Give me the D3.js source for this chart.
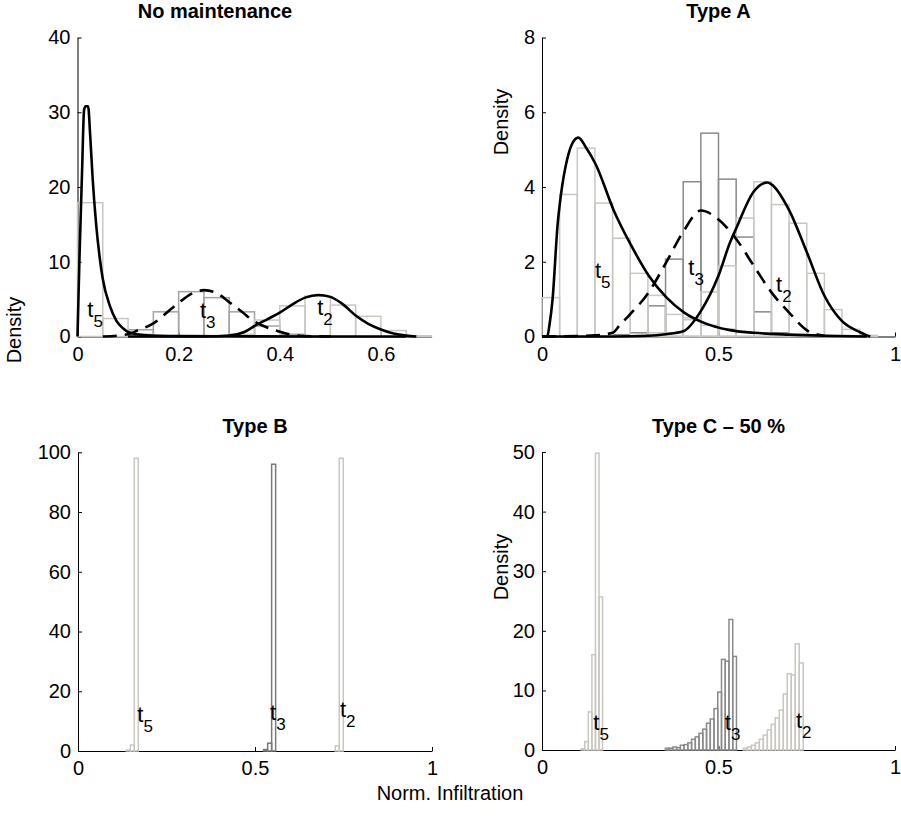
<!DOCTYPE html>
<html><head><meta charset="utf-8">
<script src="https://cdn.jsdelivr.net/npm/d3@7"></script>
<style>
html,body{margin:0;padding:0;background:#fff;}
svg{display:block;font-family:"Liberation Sans",Arial,Helvetica,sans-serif;}
</style></head>
<body><svg id="chart" width="901" height="836"></svg>
<script>
// ---------------- DATA ----------------
const panelTitles = ["No maintenance", "Type A", "Type B", "Type C \u2013 50 %"];
const seriesNames = ["5", "3", "2"]; // t5, t3, t2

// No maintenance (bin width 0.05)
const nmT5Start = 0.0,  nmT5Width = 0.05, nmT5Dens = [17.9, 2.4, 0.3, 0.1];
const nmT3Start = 0.10, nmT3Width = 0.05, nmT3Dens = [0.9, 3.3, 6.0, 5.2, 3.3, 1.4, 0.3];
const nmT2Start = 0.30, nmT2Width = 0.05, nmT2Dens = [0.3, 2.2, 4.1, 5.4, 4.2, 2.7, 0.8, 0.1];
const nmT5CurveX = [0, 0.004, 0.009, 0.013, 0.016, 0.021, 0.025, 0.030, 0.037, 0.044, 0.05, 0.064, 0.077, 0.09, 0.1, 0.13, 0.2, 0.35, 0.65];
const nmT5CurveY = [0, 10.8, 22, 30.3, 30.8, 30.8, 27, 21.1, 14.9, 10.5, 7.7, 4.1, 2.1, 1.1, 0.6, 0.2, 0.06, 0.02, 0];
const nmT3CurveX = [0.05, 0.1, 0.12, 0.15, 0.175, 0.2, 0.225, 0.25, 0.275, 0.3, 0.325, 0.35, 0.375, 0.395, 0.42, 0.45, 0.5];
const nmT3CurveY = [0, 0.3, 0.85, 1.75, 3.1, 4.5, 5.7, 6.2, 5.8, 4.6, 3.3, 2.0, 1.2, 0.75, 0.3, 0.05, 0];
const nmT2CurveX = [0.1, 0.25, 0.3, 0.33, 0.352, 0.375, 0.40, 0.425, 0.45, 0.476, 0.5, 0.525, 0.55, 0.575, 0.6, 0.625, 0.65, 0.67];
const nmT2CurveY = [0, 0.01, 0.13, 0.6, 1.48, 2.3, 3.2, 4.3, 5.2, 5.56, 5.3, 4.3, 2.8, 1.7, 0.94, 0.4, 0.12, 0.0];

// Type A (bin width 0.05)
const aT5Start = 0.0, aT5Width = 0.05, aT5Dens = [1.04, 3.8, 5.04, 3.57, 2.63, 1.69, 1.10, 0.59, 0.45, 0.3, 0.2];
const aT3Start = 0.2, aT3Width = 0.05, aT3Dens = [0.05, 0.1, 0.82, 2.07, 4.14, 5.44, 4.21, 2.66, 0.66, 0.1];
const aT2Start = 0.3, aT2Width = 0.05, aT2Dens = [0.1, 0.1, 0.5, 1.19, 1.89, 3.17, 4.14, 3.53, 3.03, 1.69, 0.72, 0.19, 0.03];
const aT5CurveX = [0, 0.015, 0.0207, 0.03, 0.044, 0.0535, 0.072, 0.086, 0.103, 0.125, 0.153, 0.203, 0.253, 0.303, 0.353, 0.403, 0.452, 0.532, 0.6, 0.7, 0.8, 0.92];
const aT5CurveY = [0, 0, 0.28, 1.0, 2.97, 3.78, 4.77, 5.17, 5.32, 5.05, 4.59, 3.38, 2.43, 1.62, 1.04, 0.64, 0.39, 0.17, 0.1, 0.05, 0.02, 0];
const aT3CurveX = [0, 0.1, 0.15, 0.2, 0.22, 0.25, 0.3, 0.35, 0.4, 0.45, 0.5, 0.55, 0.6, 0.65, 0.7, 0.755, 0.8];
const aT3CurveY = [0, 0.01, 0.03, 0.1, 0.3, 0.6, 1.15, 1.95, 2.8, 3.37, 3.13, 2.61, 1.89, 1.18, 0.64, 0.14, 0.02];
const aT2CurveX = [0, 0.2, 0.3, 0.35, 0.4, 0.45, 0.5, 0.532, 0.55, 0.6, 0.638, 0.65, 0.7, 0.75, 0.8, 0.85, 0.9, 0.92, 0.93];
const aT2CurveY = [0, 0, 0.02, 0.06, 0.14, 0.68, 1.63, 2.5, 2.89, 3.88, 4.12, 4.07, 3.38, 2.26, 1.09, 0.41, 0.12, 0.03, 0];

// Type B (narrow bins)
const bT5Start = 0.1364, bT5Width = 0.0113, bT5Dens = [0.3, 2.0, 98.0];
const bT3Start = 0.5244, bT3Width = 0.0113, bT3Dens = [0.5, 2.6, 96.0];
const bT2Start = 0.7267, bT2Width = 0.0113, bT2Dens = [1.7, 98.0];

// Type C - 50 % (narrow bins)
const cT5Start = 0.111, cT5Width = 0.0101, cT5Dens = [0.2, 1.4, 6.4, 16.0, 49.8, 25.7];
const cT3Start = 0.3495, cT3Width = 0.0106, cT3Dens = [0.3, 0.3, 0.5, 0.4, 0.8, 0.9, 1.2, 1.8, 2.2, 2.8, 3.5, 4.5, 5.2, 6.95, 9.7, 15.2, 14.9, 21.9, 15.7];
const cT2Start = 0.5705, cT2Width = 0.0113, cT2Dens = [0.3, 0.5, 0.8, 1.2, 1.8, 2.5, 3.4, 4.3, 5.4, 6.7, 9.4, 12.8, 12.6, 17.8, 14.6];

// Axis tick values
const nmXTicks = [0, 0.2, 0.4, 0.6], nmYTicks = [0, 10, 20, 30, 40];
const aXTicks = [0, 0.5, 1], aYTicks = [0, 2, 4, 6, 8];
const bXTicks = [0, 0.5, 1], bYTicks = [0, 20, 40, 60, 80, 100];
const cXTicks = [0, 0.5, 1], cYTicks = [0, 10, 20, 30, 40, 50];
const xDomains = [[0, 0.7], [0, 1], [0, 1], [0, 1]];
const yDomains = [[0, 40], [0, 8], [0, 100], [0, 50]];

// Label anchor points (data units) for t_5, t_3, t_2
const nmLabelX = [0.0194, 0.242, 0.474], nmLabelY = [2.6, 2.5, 2.9];
const aLabelX = [0.150, 0.4145, 0.663], aLabelY = [1.57, 1.65, 1.2];
const bLabelX = [0.1675, 0.5424, 0.740], bLabelY = [9.8, 10.4, 11.5];
const cLabelX = [0.1453, 0.518, 0.7195], cLabelY = [3.36, 3.4, 3.7];

const xLabel = "Norm. Infiltration";
const yLabel = "Density";

// ---------------- LAYOUT / STYLE ----------------
const boxes = [
  {x0: 77.5, x1: 431.5, y0: 336.5, y1: 37.5, tx: 215},
  {x0: 542, x1: 895, y0: 336.5, y1: 37.5, tx: 718.5},
  {x0: 78, x1: 432, y0: 751, y1: 452.3, tx: 255},
  {x0: 542, x1: 895, y0: 750, y1: 452, tx: 718.5}
];
const lightGray = "#c9c7c0", darkGray = "#8a8a8a";
const fontSize = 20, tSize = 22, subSize = 17;

function bins(start, width, dens) { return dens.map((d, i) => ({x0: start + i * width, x1: start + (i + 1) * width, d})); }
function pts(xs, ys) { return xs.map((x, i) => [x, ys[i]]); }

const panels = [
  {
    bars: [bins(nmT3Start, nmT3Width, nmT3Dens), bins(nmT5Start, nmT5Width, nmT5Dens), bins(nmT2Start, nmT2Width, nmT2Dens)],
    barColors: ["#a3a3a3", lightGray, lightGray],
    curves: [pts(nmT5CurveX, nmT5CurveY), pts(nmT3CurveX, nmT3CurveY), pts(nmT2CurveX, nmT2CurveY)],
    dashed: [false, true, false],
    xt: nmXTicks, yt: nmYTicks, lx: nmLabelX, ly: nmLabelY
  },
  {
    bars: [bins(aT3Start, aT3Width, aT3Dens), bins(aT5Start, aT5Width, aT5Dens), bins(aT2Start, aT2Width, aT2Dens)],
    barColors: [darkGray, lightGray, lightGray],
    curves: [pts(aT5CurveX, aT5CurveY), pts(aT3CurveX, aT3CurveY), pts(aT2CurveX, aT2CurveY)],
    dashed: [false, true, false],
    xt: aXTicks, yt: aYTicks, lx: aLabelX, ly: aLabelY
  },
  {
    bars: [bins(bT3Start, bT3Width, bT3Dens), bins(bT5Start, bT5Width, bT5Dens), bins(bT2Start, bT2Width, bT2Dens)],
    barColors: ["#7a7a7a", lightGray, lightGray],
    curves: [], dashed: [],
    xt: bXTicks, yt: bYTicks, lx: bLabelX, ly: bLabelY
  },
  {
    bars: [bins(cT3Start, cT3Width, cT3Dens), bins(cT5Start, cT5Width, cT5Dens), bins(cT2Start, cT2Width, cT2Dens)],
    barColors: [darkGray, lightGray, lightGray],
    curves: [], dashed: [],
    xt: cXTicks, yt: cYTicks, lx: cLabelX, ly: cLabelY
  }
];

const svg = d3.select("#chart");
const fmt = d => (d === 0 ? "0" : d3.format("~g")(d));

panels.forEach((p, k) => {
  const b = boxes[k];
  const x = d3.scaleLinear().domain(xDomains[k]).range([b.x0, b.x1]);
  const y = d3.scaleLinear().domain(yDomains[k]).range([b.y0, b.y1]);
  const g = svg.append("g");

  // axes
  const xa = g.append("g").attr("transform", `translate(0,${b.y0})`)
    .call(d3.axisBottom(x).tickValues(p.xt).tickFormat(fmt).tickSizeInner(-4).tickSizeOuter(0).tickPadding(10));
  const ya = g.append("g").attr("transform", `translate(${b.x0},0)`)
    .call(d3.axisLeft(y).tickValues(p.yt).tickFormat(fmt).tickSizeInner(-4).tickSizeOuter(0).tickPadding(7));
  [xa, ya].forEach(a => {
    a.attr("font-family", null);
    a.selectAll("text").attr("font-size", fontSize).attr("fill", "#000");
    a.selectAll("line,path").attr("stroke", "#000").attr("stroke-width", 1);
  });

  // bars
  p.bars.forEach((bs, i) => {
    g.append("g").selectAll("rect").data(bs).join("rect")
      .attr("x", d => x(d.x0)).attr("width", d => x(d.x1) - x(d.x0))
      .attr("y", d => y(d.d)).attr("height", d => y(0) - y(d.d))
      .attr("fill", "none").attr("stroke", p.barColors[i]).attr("stroke-width", 1.5);
  });

  // curves
  const line = d3.line().x(d => x(d[0])).y(d => y(d[1])).curve(d3.curveMonotoneX);
  p.curves.forEach((c, i) => {
    g.append("path").datum(c).attr("d", line)
      .attr("fill", "none").attr("stroke", "#000").attr("stroke-width", 2.6)
      .attr("stroke-dasharray", p.dashed[i] ? "14,8" : null);
  });

  // t labels
  seriesNames.forEach((s, i) => {
    const t = g.append("text").attr("x", x(p.lx[i])).attr("y", y(p.ly[i])).attr("fill", "#000");
    t.append("tspan").attr("font-size", tSize).text("t");
    t.append("tspan").attr("font-size", subSize).attr("dy", 10).text(s);
  });

  // title
  g.append("text").attr("x", b.tx).attr("y", k < 2 ? 18 : 433)
    .attr("text-anchor", "middle").attr("font-weight", "bold").attr("font-size", fontSize)
    .text(panelTitles[k]);
});

// y labels
const yLabPos = [[21, 330], [508, 122], [508, 567]];
yLabPos.forEach(([px, py]) => {
  svg.append("text").attr("transform", `translate(${px},${py}) rotate(-90)`)
    .attr("text-anchor", "middle").attr("font-size", fontSize).text(yLabel);
});
// x label
svg.append("text").attr("x", 450).attr("y", 800).attr("text-anchor", "middle")
  .attr("font-size", fontSize).text(xLabel);
</script>
</body></html>
